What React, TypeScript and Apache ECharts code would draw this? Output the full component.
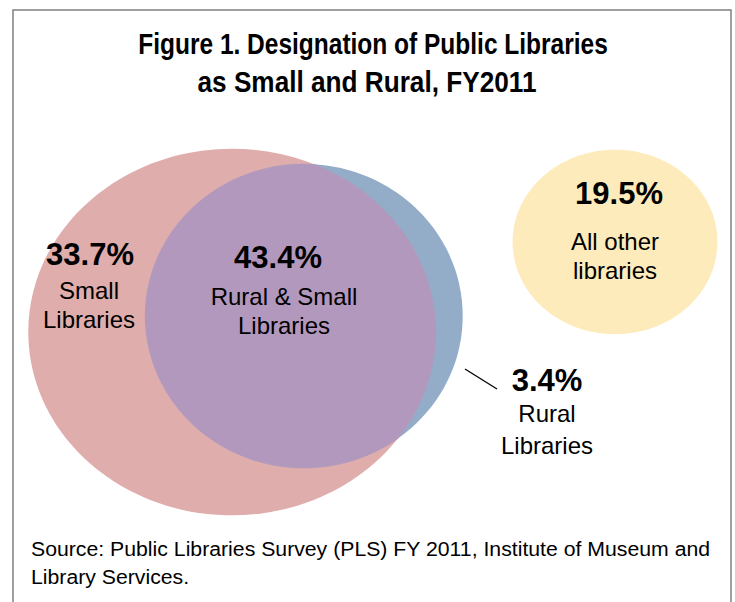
import React, { useEffect, useRef } from "react";
import * as echarts from "echarts";

// ---- Data ----
const titleLines = ["Figure 1. Designation of Public Libraries", "as Small and Rural, FY2011"];
const sourceLines = [
  "Source: Public Libraries Survey (PLS) FY 2011, Institute of Museum and",
  "Library Services.",
];
const regionLabels = ["Small\nLibraries", "Rural & Small\nLibraries", "Rural\nLibraries", "All other\nlibraries"];
const regionPercents = [33.7, 43.4, 3.4, 19.5]; // small only, both, rural only, other
const setNames = ["Small", "Rural", "Other"];
const setValues = [33.7 + 43.4, 43.4 + 3.4, 19.5]; // set totals (circle areas)

// ---- Layout (axis units = pixels) ----
const setCenters = [
  [232, 332],
  [304, 316],
  [615, 242],
];
const setAspects = [0.9, 0.957, 0.9];
const percentPos = [
  [90, 254],
  [278, 257],
  [547, 380],
  [619, 193],
];
const labelPos = [
  [89, 305],
  [284, 311],
  [547, 429],
  [615, 256],
];
const labelLineHeights = [29, 29, 32, 29];
const leader = [
  [465, 369],
  [497, 389],
];
const titleX = [373, 367];
const titleScaleX = [0.875, 0.935];

// ---- Styles ----
const setColors = ["#DFADAB", "#93ADC9", "#FDEBBB"];
const overlapColor = "#B398BD";
const K = 23.2; // px per sqrt(percent)
const FONT = "'Liberation Sans', Arial, sans-serif";

function ellipseOf(i: number, api: any) {
  const c = api.coord(setCenters[i]);
  const r = K * Math.sqrt(setValues[i]);
  const s = api.size([r, r]);
  return { cx: c[0], cy: c[1], rx: s[0], ry: s[1] * setAspects[i] };
}

export default function App() {
  const ref = useRef<HTMLDivElement>(null);
  useEffect(() => {
    if (!ref.current) return;
    const chart = echarts.init(ref.current, undefined, { renderer: "svg" });
    const option: any = {
      animation: false,
      backgroundColor: "#ffffff",
      grid: { left: 0, top: 0, width: 735, height: 602 },
      xAxis: { type: "value", min: 0, max: 735, show: false },
      yAxis: { type: "value", min: 0, max: 602, inverse: true, show: false },
      graphic: [
        {
          type: "rect",
          shape: { x: 13, y: 10, width: 718, height: 640 },
          style: { fill: "none", stroke: "#808080", lineWidth: 1.5 },
          z: 1,
        },
        ...titleLines.map((t, i) => ({
          type: "text",
          x: titleX[i],
          y: 44 + i * 38,
          scaleX: titleScaleX[i],
          scaleY: 1.03,
          style: {
            text: t,
            fill: "#000",
            font: `bold 28px ${FONT}`,
            align: "center",
            verticalAlign: "middle",
          },
          z: 10,
        })),
        ...sourceLines.map((t, i) => ({
          type: "text",
          x: 31,
          y: 549 + i * 28,
          scaleX: 1.012,
          style: {
            text: t,
            fill: "#000",
            font: `21px ${FONT}`,
            align: "left",
            verticalAlign: "middle",
          },
          z: 10,
        })),
      ],
      series: [
        {
          type: "custom",
          name: "sets",
          coordinateSystem: "cartesian2d",
          data: setValues.map((v, i) => [setCenters[i][0], setCenters[i][1], v]),
          encode: { x: 0, y: 1 },
          renderItem: (params: any, api: any) => {
            const i = params.dataIndex;
            const e = ellipseOf(i, api);
            return {
              type: "ellipse",
              shape: e,
              style: { fill: setColors[i] },
            };
          },
        },
        {
          type: "custom",
          name: "overlap",
          coordinateSystem: "cartesian2d",
          data: [[0, 0]],
          encode: { x: 0, y: 1 },
          renderItem: (params: any, api: any) => {
            const a = ellipseOf(0, api);
            const b = ellipseOf(1, api);
            const inside = (e: any, x: number, y: number) =>
              ((x - e.cx) / e.rx) ** 2 + ((y - e.cy) / e.ry) ** 2 <= 1;
            const pts: number[][] = [];
            const N = 1440;
            for (let k = 0; k < N; k++) {
              const t = (k / N) * Math.PI * 2;
              const p1 = [a.cx + a.rx * Math.cos(t), a.cy + a.ry * Math.sin(t)];
              if (inside(b, p1[0], p1[1])) pts.push(p1);
              const p2 = [b.cx + b.rx * Math.cos(t), b.cy + b.ry * Math.sin(t)];
              if (inside(a, p2[0], p2[1])) pts.push(p2);
            }
            let mx = 0, my = 0;
            pts.forEach((p) => { mx += p[0]; my += p[1]; });
            mx /= pts.length; my /= pts.length;
            pts.sort((p, q) => Math.atan2(p[1] - my, p[0] - mx) - Math.atan2(q[1] - my, q[0] - mx));
            return {
              type: "polygon",
              shape: { points: pts },
              style: { fill: overlapColor, stroke: overlapColor, lineWidth: 0.6 },
            };
          },
        },
        {
          type: "custom",
          name: "labels",
          coordinateSystem: "cartesian2d",
          data: regionPercents.map((p, i) => [percentPos[i][0], percentPos[i][1], p]),
          encode: { x: 0, y: 1 },
          z: 5,
          renderItem: (params: any, api: any) => {
            const i = params.dataIndex;
            const pp = api.coord(percentPos[i]);
            const lp = api.coord(labelPos[i]);
            const children: any[] = [
              {
                type: "text",
                x: pp[0],
                y: pp[1],
                style: {
                  text: regionPercents[i].toFixed(1) + "%",
                  fill: "#000",
                  font: `bold 31px ${FONT}`,
                  align: "center",
                  verticalAlign: "middle",
                },
              },
              {
                type: "text",
                x: lp[0],
                y: lp[1],
                style: {
                  text: regionLabels[i],
                  fill: "#000",
                  font: `24px ${FONT}`,
                  lineHeight: labelLineHeights[i],
                  align: "center",
                  verticalAlign: "middle",
                },
              },
            ];
            if (i === 2) {
              const l0 = api.coord(leader[0]);
              const l1 = api.coord(leader[1]);
              children.push({
                type: "line",
                shape: { x1: l0[0], y1: l0[1], x2: l1[0], y2: l1[1] },
                style: { stroke: "#000", lineWidth: 1.3 },
              });
            }
            return { type: "group", children };
          },
        },
      ],
    };
    chart.setOption(option);
    return () => chart.dispose();
  }, []);
  return (
    <div
      ref={ref}
      style={{ position: "fixed", left: 0, top: 0, width: 735, height: 602 }}
    />
  );
}
